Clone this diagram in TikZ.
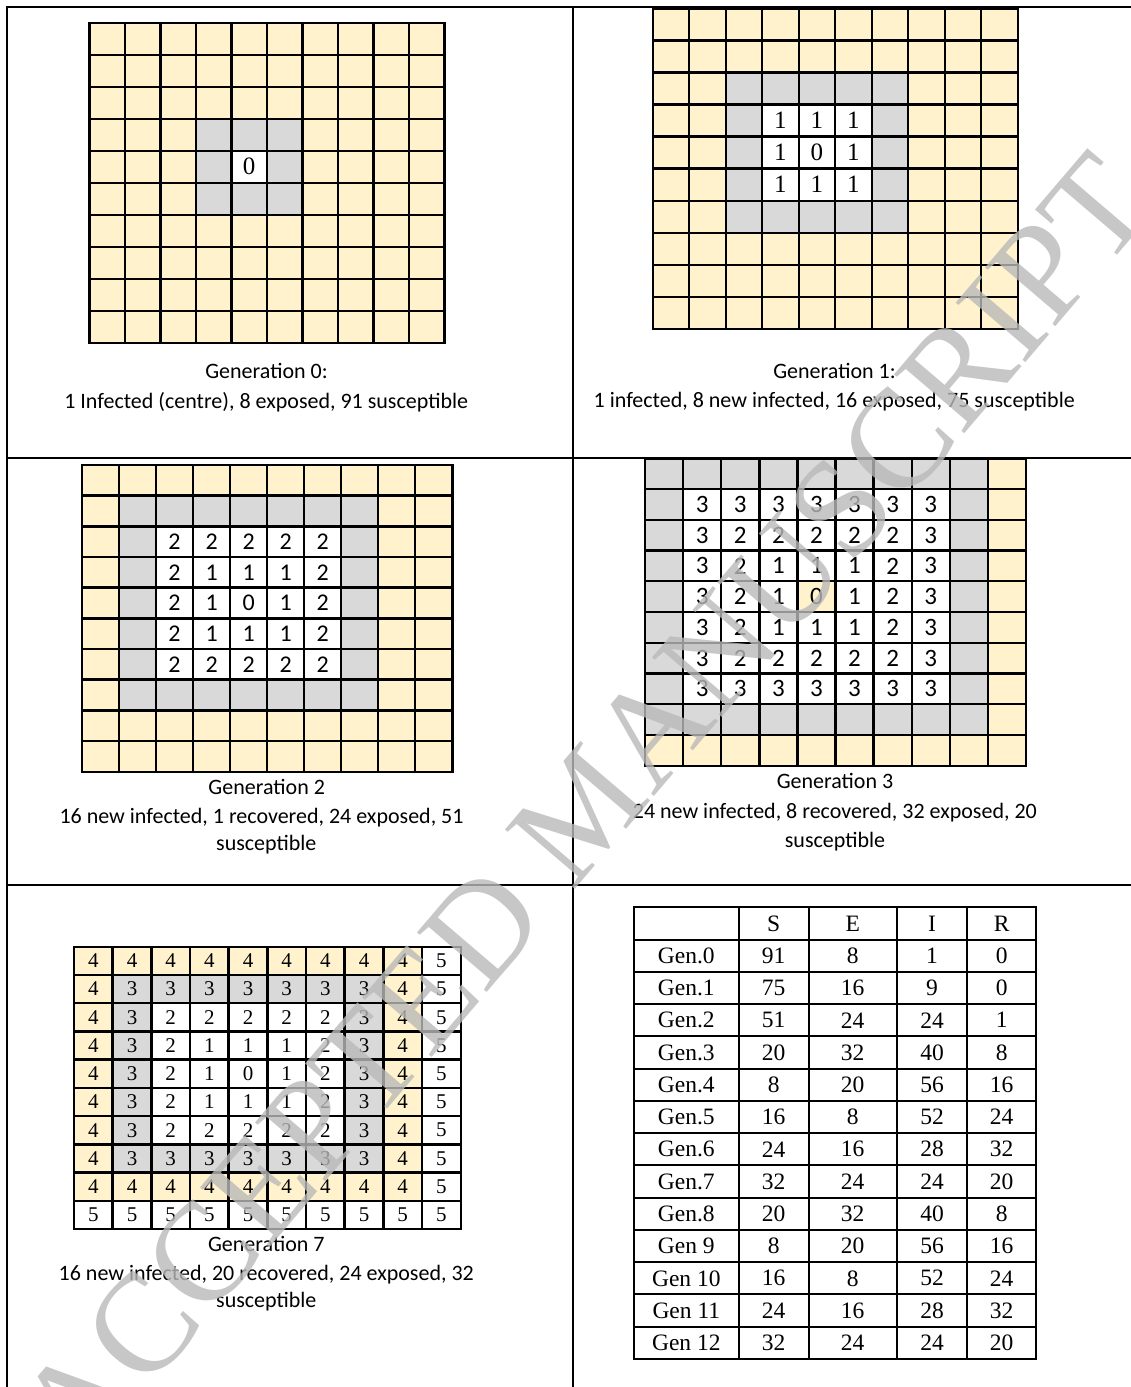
\documentclass[tikz,border=0pt]{standalone}
\usepackage{fontspec}
\setmainfont{Liberation Serif}
\newfontfamily\calib{Carlito}
\definecolor{cellY}{HTML}{FFF2CC}
\definecolor{cellG}{HTML}{D9D9D9}
\definecolor{wmark}{RGB}{185,185,185}
\tikzset{
  frameline/.style={line width=2pt, line cap=rect},
  gridline/.style={line width=2.4pt, line cap=rect},
  tabline/.style={line width=2pt, line cap=rect},
  captext/.style={font=\calib\fontsize{22}{26}\selectfont, anchor=base, inner sep=0pt},
  tabtext/.style={font=\fontsize{23.5}{27}\selectfont, inner sep=0pt},
}
% cell rules: set \cellf (fill) and \celln (number) from distance \dd
\newcommand\ruleGa{\ifnum\dd=0 \def\cellf{white}\def\celln{0}\else\ifnum\dd=1 \def\cellf{cellG}\def\celln{}\else\def\cellf{cellY}\def\celln{}\fi\fi}
\newcommand\ruleGb{\ifnum\dd<2 \def\cellf{white}\edef\celln{\dd}\else\ifnum\dd=2 \def\cellf{cellG}\def\celln{}\else\def\cellf{cellY}\def\celln{}\fi\fi}
\newcommand\ruleGc{\ifnum\dd<3 \def\cellf{white}\edef\celln{\dd}\else\ifnum\dd=3 \def\cellf{cellG}\def\celln{}\else\def\cellf{cellY}\def\celln{}\fi\fi}
\newcommand\ruleGd{\ifnum\dd=0 \def\cellf{cellY}\def\celln{0}\else\ifnum\dd<4 \def\cellf{white}\edef\celln{\dd}\else\ifnum\dd=4 \def\cellf{cellG}\def\celln{}\else\def\cellf{cellY}\def\celln{}\fi\fi\fi}
\newcommand\ruleGe{\edef\celln{\dd}\ifnum\dd<3 \def\cellf{white}\else\ifnum\dd=3 \def\cellf{cellG}\else\ifnum\dd=4 \def\cellf{cellY}\else\def\cellf{white}\fi\fi\fi}
% #1 name, #2 x0, #3 y0, #4 w, #5 h, #6 rule, #7 font
\newcommand\drawgrid[7]{%
  \foreach \rr in {0,...,9}{\foreach \kk in {0,...,9}{%
    \pgfmathtruncatemacro\dd{max(abs(\rr-4),abs(\kk-4))}%
    #6%
    \fill[\cellf] ({#2+\kk*#4},{#3+\rr*#5}) rectangle ++(#4,#5);
    \ifx\celln\empty\else
      \node[font={#7}, inner sep=0pt] (#1-\rr-\kk) at ({#2+(\kk+0.5)*#4},{#3+(\rr+0.5)*#5}) {\celln};
    \fi
  }}
  \foreach \ii in {0,...,10}{%
    \draw[gridline] ({#2+\ii*#4},#3) -- ++(0,{10*#5});
    \draw[gridline] (#2,{#3+\ii*#5}) -- ++({10*#4},0);
  }
}
\begin{document}
\begin{tikzpicture}[x=1pt,y=-1pt]
\useasboundingbox (0,0) rectangle (1131,1387);
\fill[white] (0,0) rectangle (1131,1387);

% outer frame
\draw[frameline] (1131,7) -- (7,7) -- (7,1387);
\draw[frameline] (573,7) -- (573,1387);
\draw[frameline] (7,458) -- (1131,458);
\draw[frameline] (7,885) -- (1131,885);

% grids
\drawgrid{gza}{89.3}{22.7}{35.5}{32}{\ruleGa}{\fontsize{25}{29}\selectfont}
\drawgrid{gzb}{652.7}{8.3}{36.5}{32.07}{\ruleGb}{\fontsize{25}{29}\selectfont}
\drawgrid{gzc}{82}{465}{37.03}{30.67}{\ruleGc}{\calib\fontsize{24}{28}\selectfont}
\drawgrid{gzd}{645}{458.3}{38.1}{30.74}{\ruleGd}{\calib\fontsize{25}{29}\selectfont}
\drawgrid{gze}{74}{946.7}{38.67}{28.23}{\ruleGe}{\fontsize{21}{25}\selectfont}

% captions
\node[captext] (ca1) at (266.5,378) {Generation 0:};
\node[captext] (ca2) at (266.2,408) {1 Infected (centre), 8 exposed, 91 susceptible};
\node[captext] (cb1) at (834.5,378) {Generation 1:};
\node[captext] (cb2) at (834.2,407.5) {1 infected, 8 new infected, 16 exposed, 75 susceptible};
\node[captext] (cc1) at (266.7,794) {Generation 2};
\node[captext] (cc2) at (261.5,823) {16 new infected, 1 recovered, 24 exposed, 51};
\node[captext] (cc3) at (266.3,850) {susceptible};
\node[captext] (cd1) at (835,788) {Generation 3};
\node[captext] (cd2) at (834.8,818) {24 new infected, 8 recovered, 32 exposed, 20};
\node[captext] (cd3) at (835,847) {susceptible};
\node[captext] (ce1) at (266.3,1251.7) {Generation 7};
\node[captext] (ce2) at (266.2,1280) {16 new infected, 20 recovered, 24 exposed, 32};
\node[captext] (ce3) at (266.3,1307) {susceptible};

% table
\def\tabx{{634,738.7,808.7,896.7,967.3,1036}}
\foreach \row [count=\ri from 0] in {{{},S,E,I,R}, {Gen.0,91,8,1,0}, {Gen.1,75,16,9,0}, {Gen.2,51,24,24,1}, {Gen.3,20,32,40,8}, {Gen.4,8,20,56,16}, {Gen.5,16,8,52,24}, {Gen.6,24,16,28,32}, {Gen.7,32,24,24,20}, {Gen.8,20,32,40,8}, {Gen 9,8,20,56,16}, {Gen 10,16,8,52,24}, {Gen 11,24,16,28,32}, {Gen 12,32,24,24,20}}{%
  \foreach \cell [count=\ci from 0] in \row {%
    \pgfmathsetmacro\xa{\tabx[\ci]}%
    \pgfmathsetmacro\xb{\tabx[\ci+1]}%
    \node[tabtext] (tab-\ri-\ci) at ({(\xa+\xb)/2},{907.3+(\ri+0.5)*32.26}) {\cell};
  }
}
\foreach \xx in {634,738.7,808.7,896.7,967.3,1036}{
  \draw[tabline] (\xx,907.3) -- (\xx,1359);
}
\foreach \ii in {0,...,14}{
  \draw[tabline] (634,{907.3+\ii*32.26}) -- (1036,{907.3+\ii*32.26});
}

% watermark
\node[rotate=49.5, font=\fontsize{140}{140}\selectfont, text=wmark, opacity=0.8, inner sep=0pt] (wm) at (585,808) {ACCEPTED MANUSCRIPT};
\end{tikzpicture}
\end{document}
